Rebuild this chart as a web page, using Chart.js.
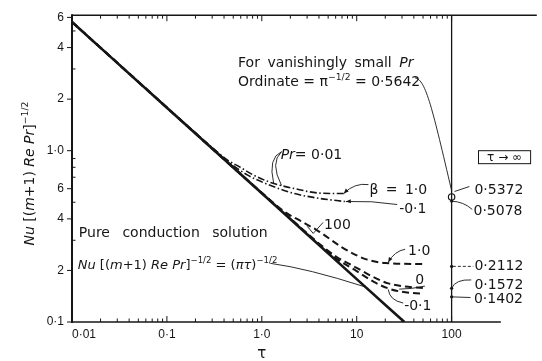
<!DOCTYPE html>
<html lang="en">
<head>
<meta charset="utf-8">
<title>Nu vs tau</title>
<script src="https://cdn.jsdelivr.net/npm/chart.js@4/dist/chart.umd.min.js"></script>
<style>
    html, body { margin: 0; padding: 0; background: #ffffff; }
    canvas { display: block; }
</style>
</head>
<body>
<canvas id="nuChart" width="542" height="361"></canvas>
<script>
// ===== データ =====
// 純粋熱伝導解 Nu[(m+1)RePr]^-1/2 = (πτ)^-1/2
const conductionTau = [0.01, 0.1, 1, 10, 31.8];
const conductionNu = [5.64, 1.78, 0.564, 0.178, 0.1];

// Pr = 0.01（一点鎖線）
const lowPrBeta1Tau = [0.01, 0.1, 0.2, 0.35, 0.443, 0.56, 0.8, 1.24, 2.21, 4.12, 7.3];
const lowPrBeta1Nu = [5.64, 1.785, 1.27, 0.97, 0.875, 0.815, 0.725, 0.652, 0.601, 0.565, 0.562];
const lowPrBetaM01Tau = [0.01, 0.1, 0.2, 0.35, 0.443, 0.71, 1.24, 2.21, 4.12, 7.5];
const lowPrBetaM01Nu = [5.64, 1.785, 1.265, 0.962, 0.86, 0.72, 0.626, 0.562, 0.526, 0.505];

// Pr = 100（破線）
const highPrBeta1Tau = [0.01, 0.1, 1, 1.74, 2.6, 3.83, 7, 10, 12.7, 20, 50];
const highPrBeta1Nu = [5.64, 1.785, 0.568, 0.44, 0.387, 0.343, 0.273, 0.245, 0.232, 0.221, 0.218];
const highPrBeta0Tau = [0.01, 0.1, 1, 2, 3.83, 6, 10, 15, 21.5, 30, 50];
const highPrBeta0Nu = [5.64, 1.784, 0.566, 0.402, 0.293, 0.242, 0.207, 0.183, 0.168, 0.162, 0.158];
const highPrBetaM01Tau = [0.01, 0.1, 1, 2, 3.83, 6, 10, 15, 21.5, 30, 50];
const highPrBetaM01Nu = [5.64, 1.784, 0.565, 0.401, 0.291, 0.236, 0.198, 0.172, 0.157, 0.15, 0.146];

// τ → ∞ の漸近値
const limitTau = 100;
const limitNu = [0.5372, 0.5078, 0.2112, 0.1572, 0.1402];
const limitLabels = ['0·5372', '0·5078', '0·2112', '0·1572', '0·1402'];

// 軸目盛
const xTickValues = [0.01, 0.1, 1, 10, 100];
const xTickLabels = ['0·01', '0·1', '1·0', '10', '100'];
const yTickValues = [0.1, 0.2, 0.4, 0.6, 1, 2, 4, 6];
const yTickLabels = ['0·1', '2', '4', '6', '1·0', '2', '4', '6'];

// ===== スタイル・注記 =====
const INK = '#161616';
const FONT = '"DejaVu Sans", sans-serif';
const TICK_FONT = '"Liberation Sans", Arial, sans-serif';
const DASH_DOT = [7, 2.5, 1.5, 2.5];
const DASH = [7, 4];
const BOTTOM_AXIS_END = 330; // 下軸線の右端（τ）

// 右側ラベルの位置 [τ, 縦軸値]
const limitLabelAt = [[174, 0.5623], [170, 0.419], [174, 0.2006], [174, 0.155], [172, 0.129]];

// 注記テキスト（位置はデータ座標、文字の左下）
const NOTES = [
    { at: [0.562, 3.08], size: 14, ws: 3, parts: [['For vanishingly small '], ['Pr', 'i']] },
    { at: [0.562, 2.39], size: 14, parts: [['Ordinate = '], ['π'], ['−1/2', 's'], [' = 0·5642']] },
    { at: [1.58, 0.899], size: 14, parts: [['Pr', 'i'], ['= 0·01']] },
    { at: [13.6, 0.562], size: 14, ws: 3, parts: [['β = 1·0']] },
    { at: [28, 0.43], size: 14, parts: [['-0·1']] },
    { at: [4.53, 0.347], size: 14, parts: [['100']] },
    { at: [34.8, 0.245], size: 14, parts: [['1·0']] },
    { at: [41.5, 0.166], size: 14, parts: [['0']] },
    { at: [31.6, 0.1174], size: 14, parts: [['-0·1']] },
    { at: [0.0118, 0.312], size: 14, ws: 8, parts: [['Pure conduction solution']] },
    {
        at: [0.0115, 0.203], size: 13,
        parts: [['Nu', 'i'], [' [('], ['m', 'i'], ['+1) '], ['Re Pr', 'i'], [']'], ['−1/2', 's'], [' = ('], ['πτ', 'i'], [')'], ['−1/2', 's']],
    },
    ...limitLabels.map((t, i) => ({ at: limitLabelAt[i], size: 14, parts: [[t]] })),
];

// 引出線（2点=直線, 3点=2次曲線, 4点=3次曲線）
const LEADERS = [
    { pts: [[41.2, 2.66], [53.6, 2.62], [63.4, 1.71], [100, 0.585]] },
    { pts: [[1.615, 0.987], [1.155, 0.911], [1.334, 0.643]] },
    { pts: [[1.615, 0.987], [1.21, 0.852], [1.615, 0.626]] },
    { pts: [[13.3, 0.634], [9.5, 0.652], [7.3, 0.562]], arrow: true },
    { pts: [[26.7, 0.485], [14.3, 0.512], [7.68, 0.505]], arrow: true },
    { pts: [[32.4, 0.266], [24.9, 0.259], [21.5, 0.223]], arrow: true },
    { pts: [[52.3, 0.162], [37.4, 0.1555], [28, 0.1555]] },
    { pts: [[30.9, 0.129], [22.1, 0.134], [21.5, 0.155]] },
    { pts: [[3.01, 0.362], [3.48, 0.329], [4.43, 0.3815]], poly: true },
    { pts: [[1.23, 0.22], [3.01, 0.206], [12.4, 0.16]] },
    { pts: [[107.5, 0.578], [154, 0.618]] },
    { pts: [[100, 0.507], [133, 0.505], [165, 0.454]] },
    { pts: [[103, 0.2112], [169, 0.2112]], dash: [3, 2] },
    { pts: [[100, 0.1572], [110, 0.178], [161, 0.176]] },
    { pts: [[100, 0.1402], [158, 0.139]] },
];

const INF_BOX = { from: [192, 1.0], to: [680, 0.84] };

const Y_TITLE = [['Nu', 'i'], [' [('], ['m', 'i'], ['+1) '], ['Re Pr', 'i'], [']'], ['−1/2', 's']];

// ===== 描画ヘルパー =====
const toPoints = (xs, ys) => xs.map((x, i) => ({ x, y: ys[i] }));

const curveStyle = (dash, width) => ({
    borderColor: INK,
    borderWidth: width,
    borderDash: dash,
    pointRadius: 0,
    fill: false,
    cubicInterpolationMode: 'monotone',
});

function strokeLine(ctx, x1, y1, x2, y2) {
    ctx.beginPath();
    ctx.moveTo(x1, y1);
    ctx.lineTo(x2, y2);
    ctx.stroke();
}

/**
 * 斜体・上付きを含むテキストを左から描画する
 * @return {number} 描画後のx座標
 */
function drawRich(ctx, x, y, parts, size, ws = 0, measureOnly = false) {
    let cx = x;
    ctx.wordSpacing = `${ws}px`;
    for (const [t, style = ''] of parts) {
        const sup = style.includes('s');
        const fs = sup ? size * 0.66 : size;
        ctx.font = `${style.includes('i') ? 'italic ' : ''}${fs}px ${FONT}`;
        if (!measureOnly) ctx.fillText(t, cx, y + (sup ? -size * 0.45 : 0));
        cx += ctx.measureText(t).width;
    }
    ctx.wordSpacing = '0px';
    return cx;
}

function drawArrowHead(ctx, from, to) {
    const ang = Math.atan2(to[1] - from[1], to[0] - from[0]);
    const len = 5;
    const half = 2;
    const bx = to[0] - len * Math.cos(ang);
    const by = to[1] - len * Math.sin(ang);
    ctx.beginPath();
    ctx.moveTo(to[0], to[1]);
    ctx.lineTo(bx + half * Math.sin(ang), by - half * Math.cos(ang));
    ctx.lineTo(bx - half * Math.sin(ang), by + half * Math.cos(ang));
    ctx.closePath();
    ctx.fill();
}

// 枠線・目盛・注記を描くプラグイン
const figurePlugin = {
    id: 'figurePlugin',
    afterDraw(chart) {
        const { ctx, chartArea: area, scales } = chart;
        const sx = scales.x;
        const sy = scales.y;
        const toPx = ([t, v]) => [sx.getPixelForValue(t), sy.getPixelForValue(v)];

        ctx.save();
        ctx.strokeStyle = INK;
        ctx.fillStyle = INK;

        // 枠線
        ctx.lineWidth = 2;
        strokeLine(ctx, area.left, area.top - 1, area.left, area.bottom + 1);
        ctx.lineWidth = 1.6;
        strokeLine(ctx, area.left, area.bottom, sx.getPixelForValue(BOTTOM_AXIS_END), area.bottom);
        strokeLine(ctx, area.left, area.top, area.right, area.top);
        ctx.lineWidth = 1.3;
        const xLimit = sx.getPixelForValue(limitTau);
        strokeLine(ctx, xLimit, area.top, xLimit, area.bottom);

        // x目盛（上下とも内向き）
        ctx.lineWidth = 1;
        for (let d = -2; d <= 2; d++) {
            for (let k = 1; k <= 9; k++) {
                const v = k * 10 ** d;
                if (v > 100.0001) break;
                const len = k === 1 ? 6 : 3.5;
                const px = sx.getPixelForValue(v);
                strokeLine(ctx, px, area.bottom, px, area.bottom - len);
                strokeLine(ctx, px, area.top, px, area.top + len);
            }
        }

        // y目盛（ラベル付きは外向き、その他は内向き）
        for (let d = -1; d <= 0; d++) {
            for (let k = 1; k <= 9; k++) {
                const v = k * 10 ** d;
                if (v > 6.0001) break;
                const py = sy.getPixelForValue(v);
                if (yTickValues.some((t) => Math.abs(t - v) < 1e-6)) strokeLine(ctx, area.left - 5, py, area.left, py);
                else strokeLine(ctx, area.left, py, area.left + 3.5, py);
            }
        }

        // x目盛ラベル
        ctx.font = `12px ${TICK_FONT}`;
        ctx.textBaseline = 'alphabetic';
        xTickValues.forEach((v, i) => {
            ctx.textAlign = i === 0 ? 'left' : 'center';
            ctx.fillText(xTickLabels[i], sx.getPixelForValue(v), area.bottom + 16);
        });

        // x軸タイトル
        ctx.textAlign = 'center';
        ctx.font = `15px ${FONT}`;
        ctx.fillText('τ', sx.getPixelForValue(1), area.bottom + 36);

        // 引出線
        ctx.lineWidth = 0.9;
        LEADERS.forEach((l) => {
            const p = l.pts.map(toPx);
            ctx.setLineDash(l.dash || []);
            ctx.beginPath();
            ctx.moveTo(...p[0]);
            if (l.poly || p.length === 2) p.slice(1).forEach((q) => ctx.lineTo(...q));
            else if (p.length === 3) ctx.quadraticCurveTo(...p[1], ...p[2]);
            else ctx.bezierCurveTo(...p[1], ...p[2], ...p[3]);
            ctx.stroke();
            ctx.setLineDash([]);
            if (l.arrow) drawArrowHead(ctx, p[p.length - 2], p[p.length - 1]);
        });

        // τ → ∞ の枠
        const [bx1, by1] = toPx(INF_BOX.from);
        const [bx2, by2] = toPx(INF_BOX.to);
        ctx.lineWidth = 1;
        ctx.strokeRect(bx1, by1, bx2 - bx1, by2 - by1);
        ctx.font = `12px ${FONT}`;
        ctx.fillText('τ → ∞', (bx1 + bx2) / 2, by2 - 3);

        // 注記テキスト
        ctx.textAlign = 'left';
        NOTES.forEach((n) => {
            const [nx, ny] = toPx(n.at);
            drawRich(ctx, nx, ny, n.parts, n.size, n.ws || 0);
        });

        // y軸タイトル（縦書き）
        const titleWidth = drawRich(ctx, 0, 0, Y_TITLE, 14, 0, true);
        ctx.save();
        ctx.translate(34, (area.top + area.bottom) / 2 + 5 + titleWidth / 2);
        ctx.rotate(-Math.PI / 2);
        drawRich(ctx, 0, 0, Y_TITLE, 14);
        ctx.restore();

        ctx.restore();
    },
};

// ===== チャート =====
new Chart(document.querySelector('#nuChart').getContext('2d'), {
    type: 'line',
    data: {
        datasets: [
            { label: 'Pure conduction', data: toPoints(conductionTau, conductionNu), ...curveStyle([], 2.6) },
            { label: 'Pr=0.01, β=1.0', data: toPoints(lowPrBeta1Tau, lowPrBeta1Nu), ...curveStyle(DASH_DOT, 1.6) },
            { label: 'Pr=0.01, β=-0.1', data: toPoints(lowPrBetaM01Tau, lowPrBetaM01Nu), ...curveStyle(DASH_DOT, 1.6) },
            { label: 'Pr=100, β=1.0', data: toPoints(highPrBeta1Tau, highPrBeta1Nu), ...curveStyle(DASH, 2) },
            { label: 'Pr=100, β=0', data: toPoints(highPrBeta0Tau, highPrBeta0Nu), ...curveStyle(DASH, 2) },
            { label: 'Pr=100, β=-0.1', data: toPoints(highPrBetaM01Tau, highPrBetaM01Nu), ...curveStyle(DASH, 2) },
            {
                label: 'τ→∞',
                data: limitNu.map((v) => ({ x: limitTau, y: v })),
                showLine: false,
                pointRadius: limitNu.map((_, i) => (i === 0 ? 3.2 : 1.6)),
                pointBackgroundColor: limitNu.map((_, i) => (i === 0 ? '#ffffff' : INK)),
                pointBorderColor: INK,
                pointBorderWidth: limitNu.map((_, i) => (i === 0 ? 1.2 : 0)),
            },
        ],
    },
    options: {
        responsive: false,
        animation: false,
        layout: { padding: { top: 14, left: 0, right: 0, bottom: 0 } },
        scales: {
            x: {
                type: 'logarithmic',
                min: 0.01,
                max: 790,
                afterFit: (scale) => { scale.height = 39; },
                grid: { display: false, drawTicks: false },
                border: { display: false },
                ticks: { display: false },
            },
            y: {
                type: 'logarithmic',
                min: 0.1,
                max: 6.18,
                afterFit: (scale) => { scale.width = 72; },
                afterBuildTicks: (scale) => { scale.ticks = yTickValues.map((value) => ({ value })); },
                grid: { display: false, drawTicks: false },
                border: { display: false },
                ticks: {
                    autoSkip: false,
                    padding: 8,
                    color: INK,
                    font: { family: 'Liberation Sans', size: 12 },
                    callback: (value, index) => yTickLabels[index],
                },
            },
        },
        plugins: {
            legend: { display: false },
            tooltip: { enabled: false },
        },
    },
    plugins: [figurePlugin],
});
</script>
</body>
</html>
